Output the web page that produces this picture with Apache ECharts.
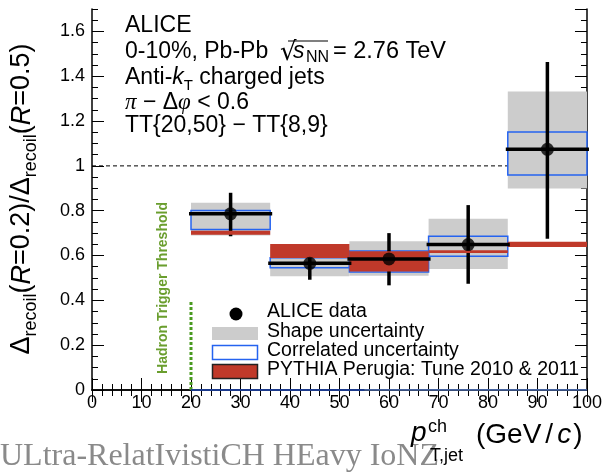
<!DOCTYPE html>
<html><head><meta charset="utf-8">
<script src="https://cdn.jsdelivr.net/npm/echarts@6/dist/echarts.min.js"></script>
<style>html,body{margin:0;padding:0;background:#fff}#c{width:605px;height:472px}</style>
</head><body><div id="c"></div>
<script>
// ---- data ----
const binLow = [20, 36, 52, 68, 84];
const binHigh = [36, 52, 68, 84, 100];
const binCenter = [28, 44, 60, 76, 92];
const ratio = [0.786, 0.565, 0.585, 0.649, 1.074];
const statLow = [0.686, 0.492, 0.467, 0.474, 0.675];
const statHigh = [0.880, 0.640, 0.700, 0.825, 1.464];
const shapeLow = [0.689, 0.507, 0.510, 0.540, 0.899];
const shapeHigh = [0.835, 0.640, 0.664, 0.764, 1.332];
const corrLow = [0.716, 0.545, 0.527, 0.597, 0.959];
const corrHigh = [0.801, 0.590, 0.620, 0.686, 1.151];
const pythiaLow = [0.693, 0.589, 0.529, 0.611, 0.638];
const pythiaHigh = [0.711, 0.651, 0.619, 0.623, 0.661];
const refLevel = [1, 1];
const refRange = [0, 100];
const thresholdX = [20, 20];
const thresholdY = [0, 0.4];
const axisBlueA = [20, 55];
const axisBlueB = [55, 100];
const xTickLabels = ['0','10','20','30','40','50','60','70','80','90','100'];
const yTickLabels = ['0','0.2','0.4','0.6','0.8','1','1.2','1.4','1.6'];

const FF = 'Liberation Sans, Arial, Helvetica, sans-serif';
const chart = echarts.init(document.getElementById('c'), null, {renderer: 'canvas'});

function boxSeries(lows, highs, z, style) {
  return {
    type: 'custom', z: z, silent: true,
    data: binLow.map((x0, i) => [x0, binHigh[i], lows[i], highs[i]]),
    encode: {x: [0, 1], y: [2, 3]},
    renderItem: (params, api) => {
      const a = api.coord([api.value(0), api.value(3)]);
      const b = api.coord([api.value(1), api.value(2)]);
      return {type: 'rect', shape: {x: a[0], y: a[1], width: b[0] - a[0], height: b[1] - a[1]}, style: style};
    }
  };
}

const xBase = {
  type: 'value', min: 0, max: 100, interval: 10,
  axisLine: {show: true, lineStyle: {color: '#000', width: 1.5}},
  axisTick: {show: true, inside: true, length: 12, lineStyle: {color: '#000', width: 1}},
  minorTick: {show: true, splitNumber: 5, length: 6, lineStyle: {color: '#000', width: 1}},
  splitLine: {show: false}, minorSplitLine: {show: false}
};
const yMajor = {
  type: 'value', min: 0, max: 1.7, interval: 0.2,
  axisLine: {show: true, lineStyle: {color: '#000', width: 1.5}},
  axisTick: {show: true, inside: true, length: 12, lineStyle: {color: '#000', width: 1}},
  splitLine: {show: false}
};
const yMinor = {
  type: 'value', min: 0, max: 1.7, interval: 0.05,
  axisLine: {show: false},
  axisTick: {show: true, inside: true, length: 6, lineStyle: {color: '#000', width: 1}},
  axisLabel: {show: false},
  splitLine: {show: false}
};

const option = {
  animation: false,
  backgroundColor: '#fff',
  grid: {left: 92, right: 15, top: 9, bottom: 82, containLabel: false},
  xAxis: [
    Object.assign({}, xBase, {position: 'bottom',
      axisLabel: {show: true, fontSize: 18, color: '#000', fontFamily: FF, margin: 4,
        formatter: v => { const i = Math.round(v / 10); return (Math.abs(v - i * 10) < 1e-6 && xTickLabels[i] !== undefined) ? xTickLabels[i] : ''; }}}),
    Object.assign({}, xBase, {position: 'top', axisLabel: {show: false}})
  ],
  yAxis: [
    Object.assign({}, yMajor, {position: 'left',
      axisLabel: {show: true, fontSize: 18, color: '#000', fontFamily: FF, margin: 7, showMaxLabel: false,
        formatter: v => { const i = Math.round(v / 0.2); return (Math.abs(v - i * 0.2) < 1e-6 && yTickLabels[i] !== undefined) ? yTickLabels[i] : ''; }}}),
    Object.assign({}, yMinor, {position: 'left'}),
    Object.assign({}, yMajor, {position: 'right', axisLabel: {show: false}}),
    Object.assign({}, yMinor, {position: 'right'})
  ],
  series: [
    {type: 'line', z: 1, silent: true, symbol: 'none', data: refRange.map((x, i) => [x, refLevel[i]]),
      lineStyle: {color: '#000', width: 1, type: [4, 3]}},
    boxSeries(shapeLow, shapeHigh, 2, {fill: '#cccccc'}),
    boxSeries(corrLow, corrHigh, 3, {fill: 'none', stroke: '#2563f0', lineWidth: 1.5}),
    {type: 'custom', z: 4, silent: true,
      data: binCenter.map((x, i) => [x, statLow[i], statHigh[i]]),
      encode: {x: 0, y: [1, 2]},
      renderItem: (params, api) => {
        const a = api.coord([api.value(0), api.value(1)]);
        const b = api.coord([api.value(0), api.value(2)]);
        return {type: 'line', shape: {x1: a[0], y1: a[1], x2: b[0], y2: b[1]}, style: {stroke: '#000', lineWidth: 3.5}};
      }},
    boxSeries(pythiaLow, pythiaHigh, 5, {fill: '#c0392a'}),
    {type: 'custom', z: 6, silent: true,
      data: binLow.map((x0, i) => [x0, binHigh[i], ratio[i]]),
      encode: {x: [0, 1], y: 2},
      renderItem: (params, api) => {
        const a = api.coord([api.value(0), api.value(2)]);
        const b = api.coord([api.value(1), api.value(2)]);
        return {type: 'line', shape: {x1: a[0] - 2, y1: a[1], x2: b[0] + 2, y2: b[1]}, style: {stroke: '#000', lineWidth: 3.5}};
      }},
    {type: 'scatter', z: 7, silent: true, symbol: 'circle', symbolSize: 13,
      itemStyle: {color: '#000'}, data: binCenter.map((x, i) => [x, ratio[i]])},
    {type: 'line', z: 8, silent: true, symbol: 'none', data: thresholdX.map((x, i) => [x, thresholdY[i]]),
      lineStyle: {color: '#4a9a20', width: 3, type: [3, 2]}},
    {type: 'line', z: 8, silent: true, symbol: 'none', data: axisBlueA.map(x => [x, 0]),
      lineStyle: {color: '#1c3a8c', width: 2}},
    {type: 'line', z: 8, silent: true, symbol: 'none', data: axisBlueB.map(x => [x, 0]),
      lineStyle: {color: '#5a80d0', width: 1.5}}
  ],
  graphic: [
    // top annotation
    {type: 'text', x: 125, y: 26, z: 20, style: {text: 'ALICE', fontSize: 23, fontFamily: FF, fill: '#000', align: 'left', verticalAlign: 'middle'}},
    {type: 'text', x: 125, y: 52, z: 20, style: {text: '0-10%, Pb-Pb', fontSize: 23, fontFamily: FF, fill: '#000', align: 'left', verticalAlign: 'middle'}},
    {type: 'text', x: 280, y: 53, z: 20, style: {text: '√', fontSize: 26, fontFamily: 'DejaVu Sans, sans-serif', fill: '#000', align: 'left', verticalAlign: 'middle'}},
    {type: 'line', z: 20, shape: {x1: 288, y1: 41, x2: 328, y2: 41}, style: {stroke: '#000', lineWidth: 1.2}},
    {type: 'text', x: 293, y: 52, z: 20, style: {text: 's', fontSize: 23, fontStyle: 'italic', fontFamily: FF, fill: '#000', align: 'left', verticalAlign: 'middle'}},
    {type: 'text', x: 306, y: 58, z: 20, style: {text: 'NN', fontSize: 16, fontFamily: FF, fill: '#000', align: 'left', verticalAlign: 'middle'}},
    {type: 'text', x: 333, y: 52, z: 20, style: {text: '= 2.76 TeV', fontSize: 23.5, fontFamily: FF, fill: '#000', align: 'left', verticalAlign: 'middle'}},
    {type: 'text', x: 125, y: 78, z: 20, style: {
      text: '{n|Anti-}{i|k}{s|T}{n| charged jets}', fontFamily: FF, fill: '#000', align: 'left', verticalAlign: 'middle',
      rich: {n: {fontSize: 23, fontFamily: FF, lineHeight: 30, fill: '#000', color: '#000'},
             i: {fontSize: 23, fontFamily: FF, fontStyle: 'italic', lineHeight: 30, fill: '#000', color: '#000'},
             s: {fontSize: 15, fontFamily: FF, lineHeight: 16, verticalAlign: 'bottom', fill: '#000', color: '#000'}}}},
    {type: 'text', x: 125, y: 103, z: 20, style: {
      text: '{i|π}{n| − Δ}{i|φ}{n| < 0.6}', fontFamily: FF, fill: '#000', align: 'left', verticalAlign: 'middle',
      rich: {n: {fontSize: 23, fontFamily: FF, fill: '#000', color: '#000'},
             i: {fontSize: 23, fontFamily: 'Liberation Serif, serif', fontStyle: 'italic', fill: '#000', color: '#000'}}}},
    {type: 'text', x: 125, y: 126, z: 20, style: {text: 'TT{20,50} − TT{8,9}', fontSize: 23, fontFamily: FF, fill: '#000', align: 'left', verticalAlign: 'middle'}},
    // hadron trigger threshold label
    {type: 'text', x: 163, y: 288, rotation: Math.PI / 2, z: 20, style: {text: 'Hadron Trigger Threshold', fontSize: 14, fontWeight: 'bold', fontFamily: FF, fill: '#6a9e2e', align: 'center', verticalAlign: 'middle'}},
    // legend
    {type: 'circle', z: 20, shape: {cx: 236, cy: 314, r: 6.5}, style: {fill: '#000'}},
    {type: 'rect', z: 20, shape: {x: 212, y: 327, width: 46, height: 13}, style: {fill: '#cccccc'}},
    {type: 'rect', z: 20, shape: {x: 212.5, y: 345.5, width: 45, height: 14}, style: {fill: '#fff', stroke: '#2563f0', lineWidth: 1.5}},
    {type: 'rect', z: 20, shape: {x: 212.5, y: 364.5, width: 45, height: 14}, style: {fill: '#c0392a', stroke: '#222', lineWidth: 1.5}},
    {type: 'text', x: 267, y: 312, z: 20, style: {text: 'ALICE data', fontSize: 19.5, fontFamily: FF, fill: '#000', align: 'left', verticalAlign: 'middle'}},
    {type: 'text', x: 267, y: 332, z: 20, style: {text: 'Shape uncertainty', fontSize: 19.5, fontFamily: FF, fill: '#000', align: 'left', verticalAlign: 'middle'}},
    {type: 'text', x: 267, y: 351, z: 20, style: {text: 'Correlated uncertainty', fontSize: 19.5, fontFamily: FF, fill: '#000', align: 'left', verticalAlign: 'middle'}},
    {type: 'text', x: 267, y: 370, z: 20, style: {text: 'PYTHIA Perugia: Tune 2010 & 2011', fontSize: 19.5, fontFamily: FF, fill: '#000', align: 'left', verticalAlign: 'middle'}},
    // y axis title
    {type: 'text', x: 22, y: 199, rotation: Math.PI / 2, z: 20, style: {
      text: '{d|Δ}{s|recoil}{d|(}{i|R}{d|=0.2)/Δ}{s|recoil}{d|(}{i|R}{d|=0.5)}',
      fontFamily: FF, fill: '#000', align: 'center', verticalAlign: 'middle',
      rich: {d: {fontSize: 27, fontFamily: FF, lineHeight: 36, fill: '#000', color: '#000'},
             i: {fontSize: 27, fontFamily: FF, fontStyle: 'italic', lineHeight: 36, fill: '#000', color: '#000'},
             s: {fontSize: 18, fontFamily: FF, lineHeight: 20, verticalAlign: 'bottom', fill: '#000', color: '#000'}}}},
    // x axis title
    {type: 'text', x: 411, y: 433, z: 20, style: {text: 'p', fontSize: 28, fontStyle: 'italic', fontFamily: FF, fill: '#000', align: 'left', verticalAlign: 'middle'}},
    {type: 'text', x: 428, y: 427, z: 20, style: {text: 'ch', fontSize: 18, fontFamily: FF, fill: '#000', align: 'left', verticalAlign: 'middle'}},
    {type: 'text', x: 430, y: 456, z: 20, style: {text: 'T,jet', fontSize: 18, fontFamily: FF, fill: '#000', align: 'left', verticalAlign: 'middle'}},
    {type: 'text', x: 476, y: 435, z: 20, style: {
      text: '{n|(GeV}{sl|/}{i|c}{n|)}', fontFamily: FF, fill: '#000', align: 'left', verticalAlign: 'middle',
      rich: {n: {fontSize: 28, fontFamily: FF, fill: '#000', color: '#000'},
             sl: {fontSize: 28, fontFamily: FF, fill: '#000', color: '#000', padding: [0, 4, 0, 4]},
             i: {fontSize: 28, fontFamily: FF, fontStyle: 'italic', fill: '#000', color: '#000', padding: [0, 2, 0, 0]}}}},
    // watermark
    {type: 'text', x: 0, y: 457, z: 10, style: {text: 'ULtra-RelatIvistiCH HEavy IoNZ', fontSize: 32, fontFamily: 'Liberation Serif, DejaVu Serif, serif', fill: '#8a8a8a', align: 'left', verticalAlign: 'middle'}}
  ]
};
chart.setOption(option);
</script>
</body></html>
